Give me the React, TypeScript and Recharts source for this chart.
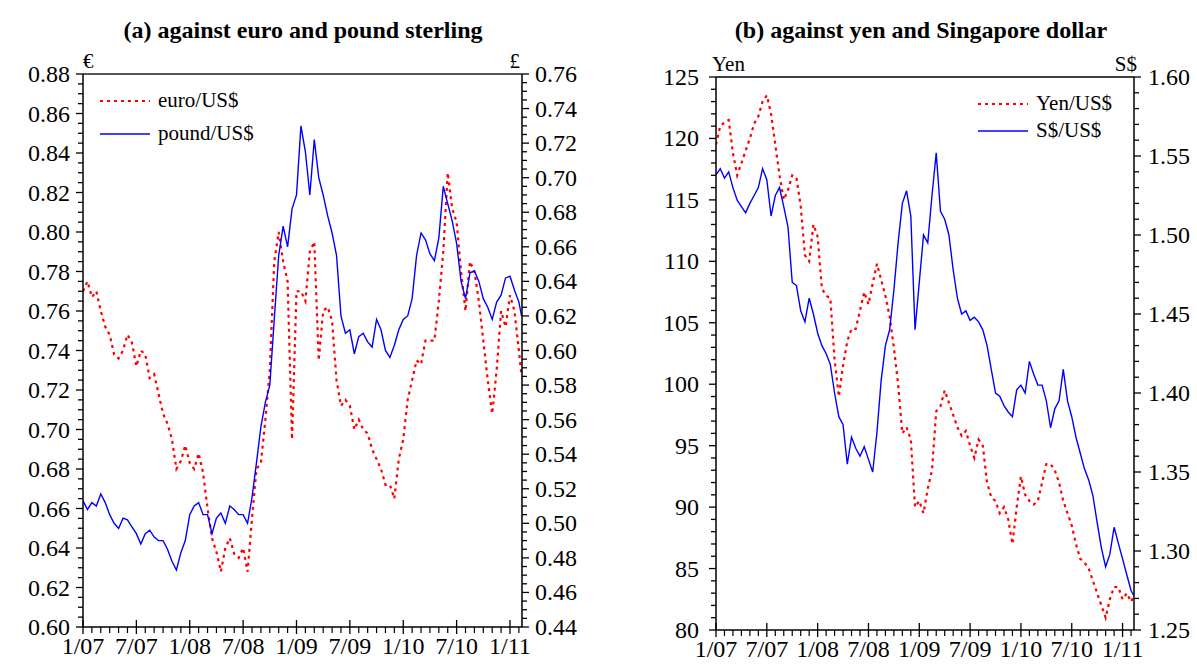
import { Legend, Line, LineChart, ReferenceLine, XAxis, YAxis } from "recharts";

// Sampling grid: months since 1 Jan 2007, every half month, last point mid-Feb 2011
const sampleMonths: number[] = Array.from({ length: 99 }, (_, i) => i / 2).concat(49.3);

// Units of foreign currency per US dollar
const euroPerUsd = [
  0.770, 0.775, 0.767, 0.770, 0.760, 0.752, 0.748, 0.738, 0.736, 0.740,
  0.748, 0.744, 0.732, 0.740, 0.738, 0.726, 0.728, 0.718, 0.708, 0.703,
  0.695, 0.680, 0.684, 0.692, 0.683, 0.680, 0.688, 0.678, 0.660, 0.645,
  0.638, 0.628, 0.640, 0.645, 0.637, 0.635, 0.640, 0.628, 0.655, 0.680,
  0.683, 0.705, 0.730, 0.785, 0.800, 0.785, 0.775, 0.695, 0.770, 0.770,
  0.765, 0.790, 0.795, 0.735, 0.760, 0.762, 0.755, 0.725, 0.712, 0.715,
  0.712, 0.700, 0.705, 0.700, 0.698, 0.690, 0.685, 0.680, 0.672, 0.672,
  0.665, 0.685, 0.695, 0.715, 0.725, 0.735, 0.733, 0.745, 0.745, 0.745,
  0.765, 0.790, 0.830, 0.812, 0.805, 0.780, 0.760, 0.785, 0.780, 0.765,
  0.745, 0.725, 0.708, 0.730, 0.760, 0.752, 0.768, 0.760, 0.740, 0.727,
];

const poundPerUsd = [
  0.513, 0.508, 0.512, 0.510, 0.517, 0.512, 0.505, 0.500, 0.497, 0.503,
  0.502, 0.498, 0.494, 0.488, 0.494, 0.496, 0.492, 0.490, 0.490, 0.485,
  0.478, 0.473, 0.483, 0.490, 0.505, 0.510, 0.512, 0.505, 0.505, 0.494,
  0.503, 0.506, 0.500, 0.510, 0.508, 0.505, 0.505, 0.500, 0.515, 0.535,
  0.556, 0.570, 0.580, 0.618, 0.655, 0.672, 0.660, 0.682, 0.690, 0.730,
  0.715, 0.690, 0.722, 0.700, 0.690, 0.678, 0.668, 0.655, 0.620, 0.610,
  0.612, 0.598, 0.608, 0.610, 0.605, 0.602, 0.618, 0.612, 0.600, 0.596,
  0.603, 0.612, 0.618, 0.620, 0.630, 0.655, 0.668, 0.664, 0.656, 0.652,
  0.665, 0.695, 0.685, 0.675, 0.662, 0.640, 0.630, 0.645, 0.646, 0.640,
  0.630, 0.625, 0.618, 0.628, 0.632, 0.642, 0.643, 0.635, 0.628, 0.620,
];

const yenPerUsd = [
  119.5, 121.0, 121.3, 121.5, 118.8, 117.0, 118.0, 119.0, 120.0, 121.2,
  121.8, 123.0, 123.5, 122.0, 119.5, 117.0, 115.0, 115.8, 117.0, 116.8,
  114.5, 110.5, 110.0, 113.0, 112.0, 107.8, 107.2, 107.0, 102.0, 99.0,
  101.5, 103.5, 104.5, 104.5, 106.0, 107.5, 106.5, 108.2, 109.8, 108.5,
  107.2, 105.5, 103.0, 100.0, 96.0, 96.5, 95.5, 90.0, 90.5, 89.5,
  91.5, 93.0, 97.8, 98.2, 99.5, 98.5, 97.5, 96.5, 95.8, 96.2,
  95.0, 94.0, 95.5, 95.0, 92.0, 90.8, 90.5, 89.5, 90.0, 89.0,
  87.0, 90.0, 92.5, 91.0, 90.5, 90.2, 90.5, 92.0, 93.5, 93.5,
  93.0, 92.0, 90.5, 89.5, 88.5, 87.0, 85.8, 85.5, 85.0, 84.0,
  83.0, 82.0, 81.0, 82.5, 83.5, 83.5, 82.5, 83.0, 82.3, 82.7,
];

const sgdPerUsd = [
  1.538, 1.542, 1.536, 1.540, 1.530, 1.522, 1.518, 1.514, 1.520, 1.525,
  1.530, 1.542, 1.535, 1.512, 1.525, 1.530, 1.518, 1.505, 1.470, 1.468,
  1.452, 1.445, 1.460, 1.450, 1.438, 1.430, 1.425, 1.418, 1.400, 1.385,
  1.380, 1.355, 1.372, 1.365, 1.360, 1.366, 1.358, 1.350, 1.375, 1.408,
  1.430, 1.440, 1.465, 1.495, 1.520, 1.528, 1.512, 1.440, 1.470, 1.500,
  1.495, 1.525, 1.552, 1.515, 1.510, 1.500, 1.478, 1.460, 1.450, 1.452,
  1.446, 1.448, 1.445, 1.440, 1.430, 1.415, 1.400, 1.398, 1.392, 1.388,
  1.385, 1.402, 1.405, 1.400, 1.420, 1.412, 1.405, 1.405, 1.395, 1.378,
  1.390, 1.395, 1.415, 1.395, 1.385, 1.372, 1.362, 1.352, 1.345, 1.335,
  1.318, 1.302, 1.290, 1.298, 1.315, 1.305, 1.295, 1.285, 1.275, 1.272,
];

// Labelled half-year ticks on the time axis
const periodMonths = [0, 6, 12, 18, 24, 30, 36, 42, 48];
const periodLabels = ["1/07", "7/07", "1/08", "7/08", "1/09", "7/09", "1/10", "7/10", "1/11"];
const monthTicks = Array.from({ length: 50 }, (_, i) => i);

// Labelled value ticks
const euroMajor = [0.6, 0.62, 0.64, 0.66, 0.68, 0.7, 0.72, 0.74, 0.76, 0.78, 0.8, 0.82, 0.84, 0.86, 0.88];
const poundMajor = [0.44, 0.46, 0.48, 0.5, 0.52, 0.54, 0.56, 0.58, 0.6, 0.62, 0.64, 0.66, 0.68, 0.7, 0.72, 0.74, 0.76];
const yenMajor = [80, 85, 90, 95, 100, 105, 110, 115, 120, 125];
const sgdMajor = [1.25, 1.3, 1.35, 1.4, 1.45, 1.5, 1.55, 1.6];

// Legend order per panel
const keyOrderA = ["euro/US$", "pound/US$"];
const keyOrderB = ["Yen/US$", "S$/US$"];

const FONT = '"Liberation Serif", "Times New Roman", Times, serif';
const RED = "#ff0000";
const BLUE = "#0000ff";
const DOTTED = "3 4";

const minorSteps = (lo: number, hi: number, step: number) => {
  const n = Math.round((hi - lo) / step);
  return Array.from({ length: n + 1 }, (_, i) => +(lo + i * step).toFixed(3));
};

const isIn = (list: number[], v: number) => list.some((m) => Math.abs(m - v) < 1e-6);

const panelA = sampleMonths.map((t, i) => ({ t, euro: euroPerUsd[i], pound: poundPerUsd[i] }));
const panelB = sampleMonths.map((t, i) => ({ t, yen: yenPerUsd[i], sgd: sgdPerUsd[i] }));

const textStyle = { fontFamily: FONT, fontSize: 24 };

function valueTick(side: "left" | "right", majors: number[], digits: number, gap = 13) {
  return (props: any) => {
    const { x, y, payload } = props;
    const v = payload.value as number;
    const major = isIn(majors, v);
    const dir = side === "left" ? -1 : 1;
    const len = major ? 7 : 5;
    return (
      <g>
        <line x1={x} y1={y} x2={x + dir * len} y2={y} stroke="#000" strokeWidth={1.3} />
        {major ? (
          <text
            x={x + dir * gap}
            y={y}
            textAnchor={side === "left" ? "end" : "start"}
            dominantBaseline="central"
            style={textStyle}
            fill="#000"
          >
            {v.toFixed(digits)}
          </text>
        ) : null}
      </g>
    );
  };
}

function monthTick(props: any) {
  const { x, y, payload } = props;
  const idx = periodMonths.indexOf(payload.value);
  if (idx < 0) {
    return <line x1={x} y1={y} x2={x} y2={y + 6} stroke="#000" strokeWidth={1.2} />;
  }
  return (
    <g>
      <line x1={x} y1={y - 7} x2={x} y2={y + 7} stroke="#000" strokeWidth={1.3} />
      <text x={x} y={y + 27} textAnchor="middle" style={textStyle} fill="#000">
        {periodLabels[idx]}
      </text>
    </g>
  );
}

function unitLabel(text: string, side: "left" | "right", dx: number) {
  return (props: any) => {
    const vb = props.viewBox;
    const x = side === "left" ? vb.x + vb.width + dx : vb.x + dx;
    return (
      <text
        x={x}
        y={vb.y - 6}
        textAnchor={side === "left" ? "start" : "end"}
        style={{ fontFamily: FONT, fontSize: 21 }}
        fill="#000"
      >
        {text}
      </text>
    );
  };
}

function SeriesKey({ payload, rowHeight, order }: { payload?: any[]; rowHeight: number; order: string[] }) {
  const items = [...(payload ?? [])].sort((a, b) => order.indexOf(a.value) - order.indexOf(b.value));
  return (
    <div style={{ fontFamily: FONT }}>
      {items.map((entry) => {
        const dash = entry.payload?.strokeDasharray;
        return (
          <div key={entry.value} style={{ display: "flex", alignItems: "center", height: rowHeight }}>
            <svg width={56} height={10}>
              <line
                x1={3}
                y1={5}
                x2={53}
                y2={5}
                stroke={entry.color}
                strokeWidth={dash ? 2.2 : 1.4}
                strokeDasharray={dash}
              />
            </svg>
            <span style={{ marginLeft: 5, fontSize: 21, color: "#000", lineHeight: 1 }}>{entry.value}</span>
          </div>
        );
      })}
    </div>
  );
}

const axisStroke = { stroke: "#000", strokeWidth: 1.5 };

const titleStyle = {
  position: "absolute" as const,
  top: 17,
  textAlign: "center" as const,
  fontWeight: 700,
  fontSize: 24,
  lineHeight: "26px",
};

export default function App() {
  return (
    <div
      style={{
        position: "absolute",
        left: 0,
        top: 0,
        width: 1197,
        height: 671,
        background: "#fff",
        fontFamily: FONT,
        overflow: "hidden",
      }}
    >
      <div style={{ ...titleStyle, left: 100, width: 406 }}>(a) against euro and pound sterling</div>
      <div style={{ ...titleStyle, left: 721, width: 400 }}>(b) against yen and Singapore dollar</div>

      <div style={{ position: "absolute", left: 0, top: 0 }}>
        <LineChart width={600} height={671} data={panelA} margin={{ top: 74, right: 18, bottom: 14, left: 23 }}>
          <XAxis
            type="number"
            dataKey="t"
            domain={[0, 49.35]}
            allowDataOverflow
            ticks={monthTicks}
            interval={0}
            tickSize={0}
            tickMargin={0}
            tickLine={false}
            tick={monthTick}
            height={30}
            axisLine={axisStroke}
          />
          <YAxis
            yAxisId="euro"
            domain={[0.6, 0.88]}
            allowDataOverflow
            ticks={minorSteps(0.6, 0.88, 0.005)}
            interval={0}
            width={60}
            tickSize={0}
            tickMargin={0}
            tickLine={false}
            tick={valueTick("left", euroMajor, 2)}
            axisLine={axisStroke}
            label={{ content: unitLabel("€", "left", 0) }}
          />
          <YAxis
            yAxisId="pound"
            orientation="right"
            domain={[0.44, 0.76]}
            allowDataOverflow
            ticks={minorSteps(0.44, 0.76, 0.005)}
            interval={0}
            width={60}
            tickSize={0}
            tickMargin={0}
            tickLine={false}
            tick={valueTick("right", poundMajor, 2)}
            axisLine={axisStroke}
            label={{ content: unitLabel("£", "right", -2) }}
          />
          <ReferenceLine yAxisId="euro" y={0.88} stroke="#555" strokeWidth={2} />
          <Legend
            layout="horizontal"
            verticalAlign="middle"
            align="center"
            wrapperStyle={{ left: 97, top: 84, width: 220, height: 66 }}
            content={(p: any) => <SeriesKey payload={p.payload} rowHeight={33} order={keyOrderA} />}
          />
          <Line
            yAxisId="euro"
            dataKey="euro"
            name="euro/US$"
            type="linear"
            stroke={RED}
            strokeWidth={2.2}
            strokeDasharray={DOTTED}
            dot={false}
            isAnimationActive={false}
          />
          <Line
            yAxisId="pound"
            dataKey="pound"
            name="pound/US$"
            type="linear"
            stroke={BLUE}
            strokeWidth={1.4}
            dot={false}
            isAnimationActive={false}
          />
        </LineChart>
      </div>

      <div style={{ position: "absolute", left: 600, top: 0 }}>
        <LineChart width={597} height={671} data={panelB} margin={{ top: 77, right: 3, bottom: 11, left: 56 }}>
          <XAxis
            type="number"
            dataKey="t"
            domain={[0, 49.35]}
            allowDataOverflow
            ticks={monthTicks}
            interval={0}
            tickSize={0}
            tickMargin={0}
            tickLine={false}
            tick={monthTick}
            height={30}
            axisLine={axisStroke}
          />
          <YAxis
            yAxisId="yen"
            domain={[80, 125]}
            allowDataOverflow
            ticks={minorSteps(80, 125, 1)}
            interval={0}
            width={60}
            tickSize={0}
            tickMargin={0}
            tickLine={false}
            tick={valueTick("left", yenMajor, 0, 17)}
            axisLine={axisStroke}
            label={{ content: unitLabel("Yen", "left", -4) }}
          />
          <YAxis
            yAxisId="sgd"
            orientation="right"
            domain={[1.25, 1.6]}
            allowDataOverflow
            ticks={minorSteps(1.25, 1.6, 0.01)}
            interval={0}
            width={60}
            tickSize={0}
            tickMargin={0}
            tickLine={false}
            tick={valueTick("right", sgdMajor, 2, 14)}
            axisLine={axisStroke}
            label={{ content: unitLabel("S$", "right", 3) }}
          />
          <ReferenceLine yAxisId="yen" y={125} stroke="#000" strokeWidth={1.5} />
          <Legend
            layout="horizontal"
            verticalAlign="middle"
            align="center"
            wrapperStyle={{ left: 375, top: 90, width: 200, height: 54 }}
            content={(p: any) => <SeriesKey payload={p.payload} rowHeight={27} order={keyOrderB} />}
          />
          <Line
            yAxisId="yen"
            dataKey="yen"
            name="Yen/US$"
            type="linear"
            stroke={RED}
            strokeWidth={2.2}
            strokeDasharray={DOTTED}
            dot={false}
            isAnimationActive={false}
          />
          <Line
            yAxisId="sgd"
            dataKey="sgd"
            name="S$/US$"
            type="linear"
            stroke={BLUE}
            strokeWidth={1.4}
            dot={false}
            isAnimationActive={false}
          />
        </LineChart>
      </div>
    </div>
  );
}
